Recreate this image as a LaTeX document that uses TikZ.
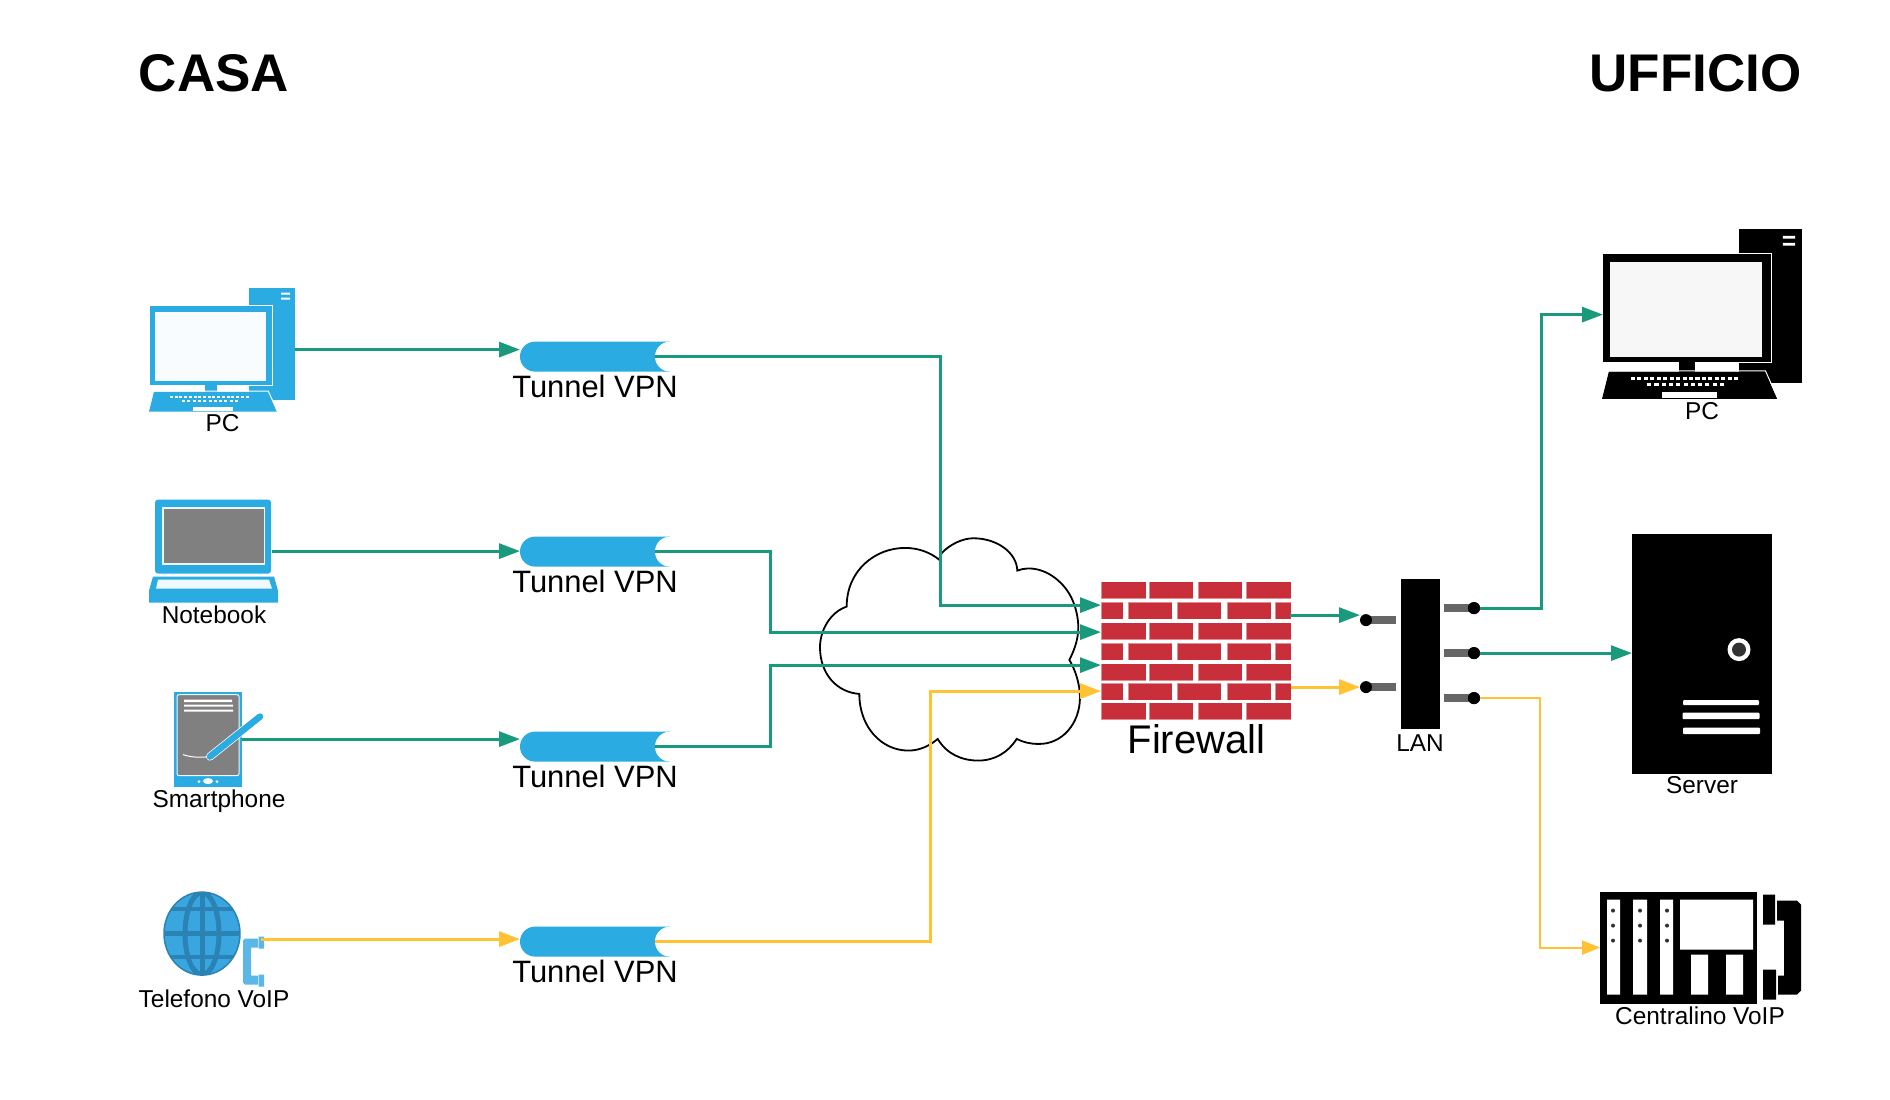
\documentclass[tikz,border=0pt]{standalone}
\usepackage{fontspec}
\setmainfont{Liberation Sans}
\usetikzlibrary{arrows.meta,shapes.misc,calc}
\definecolor{cblue}{HTML}{2AABE2}
\definecolor{cteal}{HTML}{1A9A7C}
\definecolor{cgold}{HTML}{FFC233}
\definecolor{cbrick}{HTML}{C82F3A}
\definecolor{cgrey}{HTML}{808080}
\definecolor{cstub}{HTML}{666666}
\definecolor{cglobe}{HTML}{39A6E0}
\definecolor{cglobeline}{HTML}{2B82B5}
\definecolor{chandset}{HTML}{5AB7E8}
\definecolor{cled}{HTML}{333333}
\tikzset{
  linkteal/.style={draw=cteal,line width=3pt,-{Triangle[length=21pt,width=15pt,fill=cteal]}},
  linkgold/.style={draw=cgold,line width=3pt,-{Triangle[length=21pt,width=15pt,fill=cgold]}},
  linkthin/.style={draw=cgold,line width=2pt,-{Triangle[length=18pt,width=14pt,fill=cgold]}},
  tunnelbody/.style={rounded rectangle,rounded rectangle east arc=none,fill=cblue,draw=none,inner sep=0pt,outer sep=0pt,minimum width=150pt,minimum height=30pt},
  tunnelmouth/.style={circle,fill=white,draw=none,inner sep=0pt,outer sep=0pt,minimum size=30pt},
  iconbox/.style={inner sep=0pt,outer sep=0pt,draw=none},
  lbl/.style={anchor=base,inner sep=0pt,font=\fontsize{24.4}{28}\selectfont},
  lbltunnel/.style={anchor=base,inner sep=0pt,font=\fontsize{30.9}{34}\selectfont},
  lblhead/.style={anchor=base,inner sep=0pt,font=\fontsize{53}{58}\selectfont\bfseries},
  portdot/.style={circle,fill=black,draw=none,inner sep=0pt,outer sep=0pt,minimum size=12pt},
  stub/.style={draw=cstub,line width=8pt},
  brick/.style={fill=cbrick,draw=white,draw opacity=.45,line width=.7pt},
  pics/desktop/.style={code={
    \fill[#1] (100,0) rectangle (146,112);
    \fill[white] (132,5) rectangle (141,7) (132,10) rectangle (141,12);
    \fill[#1] (0.5,18) rectangle (123,97);
    \draw[white,line width=1pt] (0.5,17.5) -- (123.5,17.5) -- (123.5,97.5) -- (0.5,97.5);
    \fill[white!97!#1] (6,24) rectangle (117,93);
    \fill[#1] (56,97) rectangle (68,104);
    \fill[#1] (5,104) -- (119,104) -- (128,124) -- (0,124) -- cycle;
    \draw[white,line width=1pt] (5,103.5) -- (119.3,103.5) -- (128.5,124);
    \fill[white] (44,119) rectangle (84,123);
    \foreach \k in {0,...,16} \fill[white] ({21+4.72*\k},108) rectangle +(3,2.2);
    \foreach \k in {0,...,10} \fill[white] ({33+5.3*\k},112.5) rectangle +(3,2.2);
  }}
}
\begin{document}
\begin{tikzpicture}[x=1pt,y=-1pt]
\useasboundingbox (0,0) rectangle (1890,1100);
\fill[white] (0,0) rectangle (1890,1100);
\begin{scope}[yshift=-0.6pt]

% section headings
\node[lblhead] (hCasa) at (214,91) {CASA};
\node[lblhead] (hUfficio) at (1695.5,91) {UFFICIO};

% cloud outline
\begin{scope}[shift={(800,520)},x=0.3333pt,y=-0.3333pt]
\draw[black,line width=1.8pt,fill=white]
  (140,258) .. controls (140,150) and (225,82) .. (315,82)
  .. controls (355,82) and (390,95) .. (417,117) -- (425,98)
  .. controls (450,70) and (490,53) .. (520,53)
  .. controls (590,53) and (650,95) .. (652,150)
  .. controls (690,135) and (745,145) .. (790,195)
  .. controls (830,240) and (835,300) .. (835,320)
  .. controls (835,360) and (820,395) .. (808,418)
  .. controls (825,445) and (840,490) .. (840,530)
  .. controls (840,610) and (785,672) .. (715,670)
  .. controls (690,670) and (670,665) .. (650,655)
  .. controls (625,695) and (585,720) .. (535,720)
  .. controls (485,720) and (440,700) .. (413,655)
  .. controls (390,675) and (360,690) .. (325,690)
  .. controls (245,690) and (178,620) .. (178,520)
  .. controls (110,515) and (60,460) .. (60,380)
  .. controls (60,330) and (90,275) .. (140,258) -- cycle;
\end{scope}

% home desktop
\node[iconbox,minimum width=146pt,minimum height=124pt] (pcHome) at (222,349) {};
\pic at (149,287) {desktop=cblue};
\node[lbl] (lPcHome) at (222.5,431) {PC};

% notebook
\node[iconbox,minimum width=123pt,minimum height=103pt] (notebook) at (210.5,550.5) {};
\fill[cblue,rounded corners=3pt] (155,499) rectangle (271,573);
\fill[white!92!cblue] (162,506) rectangle (265,564);
\fill[cgrey] (163.5,508) rectangle (264,562);
\fill[cblue] (153,576) -- (274,576) -- (278,590) -- (278,602) -- (149,602) -- (149,590) -- cycle;
\fill[white!92!cblue] (158,579) -- (269,579) -- (272,588) -- (156,588) -- cycle;
\node[lbl] (lNotebook) at (214,623) {Notebook};

% tablet with stylus
\node[iconbox,minimum width=68pt,minimum height=95pt] (tablet) at (208,738.5) {};
\fill[cblue] (174,691) rectangle (242,786);
\fill[cgrey,draw=white!90!cblue,line width=1pt,rounded corners=2pt] (177,694) rectangle (239,775);
\fill[white] (184,699) rectangle (232,701.5) (184,704) rectangle (233,706) (184,709) rectangle (233,711);
\draw[white,line width=1pt] (183,754) .. controls (192,757) and (200,757) .. (210,756);
\draw[white,line width=8pt,line cap=round] (210,756) -- (260,716);
\draw[cblue,line width=6.5pt,line cap=round] (210,756) -- (260,716);
\fill[white] (208,780.5) ellipse [x radius=5,y radius=3];
\fill[white] (199,781) circle [radius=1.5] (217,781) circle [radius=1.5];
\node[lbl] (lTablet) at (219,806.5) {Smartphone};

% VoIP phone: globe and handset
\fill[cglobe] (202,933) ellipse [x radius=38,y radius=41.5];
\begin{scope}
\clip (202,933) ellipse [x radius=38,y radius=41.5];
\draw[cglobeline,line width=5pt] (160,933) -- (244,933);
\draw[cglobeline,line width=4pt] (160,908) -- (244,908) (160,956) -- (244,956);
\draw[cglobeline,line width=5pt] (202,890) -- (202,976);
\draw[cglobeline,line width=5pt] (202,933) ellipse [x radius=17,y radius=41];
\end{scope}
\draw[cglobeline,line width=1.5pt] (202,933) ellipse [x radius=38,y radius=41.5];
\fill[chandset] (243,940) -- (245,938) -- (258,938) -- (258,947) -- (251,947) -- (251,975) -- (258,975) -- (258,984) -- (245,984) -- (243,982) -- cycle;
\fill[chandset] (258.5,936) rectangle (264,948) (258.5,974) rectangle (264,986);
\node[iconbox,minimum width=2pt,minimum height=2pt] (voipPhone) at (261,938.5) {};
\node[lbl] (lVoip) at (214,1007) {Telefono VoIP};

% VPN tunnels
\foreach \n/\y in {1/356,2/551,3/746,4/941}{
  \node[tunnelbody] (t\n) at (595,\y) {};
  \node[tunnelmouth] (m\n) at (t\n.east) {};
  \node[lbltunnel] (lT\n) at (595,\y+40.5) {Tunnel VPN};
}

% brick wall
\node[iconbox,minimum width=190pt,minimum height=138pt] (fw) at (1196,650) {};
\foreach \y in {581,622,663,702}{
  \foreach \a/\b in {1101/1146,1149/1193,1198/1242,1246/1291}
    \filldraw[brick] (\a,\y) rectangle (\b,\y+17);
}
\foreach \y in {601.5,642.5,682.5}{
  \foreach \a/\b in {1101/1123,1128/1172,1177/1221,1227/1271,1275/1291}
    \filldraw[brick] (\a,\y) rectangle (\b,\y+17);
}
\node[lbl,font=\fontsize{40}{44}\selectfont] (lFw) at (1196.5,752.5) {Firewall};

% LAN switch and its ports
\node[iconbox,fill=black,minimum width=39pt,minimum height=150pt] (lan) at (1420.5,653.5) {};
\node[lbl] (lLan) at (1420,750.5) {LAN};
\foreach \n/\x/\y/\e in {a/1366/619.5/1396,b/1366/686.5/1396,c/1474/607.5/1444,d/1474/652.5/1444,e/1474/697.5/1444}{
  \draw[stub] (\x,\y) -- (\e,\y);
  \node[portdot] (p\n) at (\x,\y) {};
}

% office desktop
\node[iconbox,minimum width=200pt,minimum height=170pt] (pcOffice) at (1702,314) {};
\pic[scale=1.37,transform shape] at (1602,228.5) {desktop=black};
\node[lbl] (lPcOffice) at (1702,419) {PC};

% server
\node[iconbox,fill=black,minimum width=140pt,minimum height=240pt] (server) at (1702,653) {};
\fill[white] (1739,649) circle [radius=11.5];
\fill[cled] (1739,649) circle [radius=7];
\fill[white,rounded corners=1pt] (1683,699.5) rectangle (1759,704.5) (1682.5,712) rectangle (1759.5,718.5) (1683,727) rectangle (1760,733.5);
\node[lbl] (lServer) at (1702,793) {Server};

% VoIP exchange
\node[iconbox,fill=black,minimum width=157pt,minimum height=112pt] (pbx) at (1678.5,947) {};
\fill[white] (1607,899) rectangle (1620,994) (1633,899) rectangle (1647,994) (1660,899) rectangle (1673,994);
\fill[white] (1680,899) rectangle (1753,949) (1691,954) rectangle (1708,994) (1726,954) rectangle (1743,994);
\foreach \x in {1613,1640,1667}\foreach \y in {910,925,940}
  \fill[cled] (\x,\y) circle [radius=2];
\fill[black] (1763,894) rectangle (1775,924) (1763,969) rectangle (1776,999);
\fill[black] (1777,900) -- (1797,900) -- (1801,904) -- (1801,990) -- (1797,994) -- (1778,994) -- (1778,975) -- (1784,975) -- (1784,920) -- (1777,920) -- cycle;
\node[lbl] (lPbx) at (1700,1024) {Centralino VoIP};

% junction points and entry points of the links
\coordinate (j1) at (940,604.5);
\coordinate (j2) at (770,631.5);
\coordinate (j3) at (770,664.5);
\coordinate (j4) at (930,690.5);
\coordinate (fwA) at (fw.west |- j1);
\coordinate (fwB) at (fw.west |- j2);
\coordinate (fwC) at (fw.west |- j3);
\coordinate (fwD) at (fw.west |- j4);
\coordinate (outA) at (1290,614.5);
\coordinate (outB) at (1291,686.5);
\coordinate (inA) at (1360,614.5);
\coordinate (inB) at (1360,686.5);
\coordinate (j5) at (1541.5,314);
\coordinate (j6) at (1540,947);
\coordinate (pcIn) at (1603,314);
\coordinate (pbxIn) at (pbx.west |- j6);

% links from the devices to the tunnels
\draw[linkteal] (pcHome.east) -- (pcHome.east -| t1.west);
\draw[linkteal] (notebook.east) -- (notebook.east -| t2.west);
\draw[linkteal] (tablet.east) -- (tablet.east -| t3.west);
\draw[linkgold] (voipPhone.center) -- (voipPhone.center -| t4.west);

% links from the tunnels through the cloud to the firewall
\draw[linkteal] (m1.west) -| (j1) -- (fwA);
\draw[linkteal] (m2.west) -| (j2) -- (fwB);
\draw[linkteal] (m3.west) -| (j3) -- (fwC);
\draw[linkgold] (m4.west) -| (j4) -- (fwD);

% links from the firewall to the LAN
\draw[linkteal] (outA) -- (inA);
\draw[linkgold] (outB) -- (inB);

% links from the LAN to the office equipment
\draw[linkteal] (pc.center) -| (j5) -- (pcIn);
\draw[linkteal] (pd.center) -- (server.west |- pd.center);
\draw[linkthin] (pe.center) -| (j6) -- (pbxIn);
\foreach \n in {c,d,e}{\fill[black] (p\n) circle [radius=6];}
\end{scope}
\end{tikzpicture}
\end{document}
